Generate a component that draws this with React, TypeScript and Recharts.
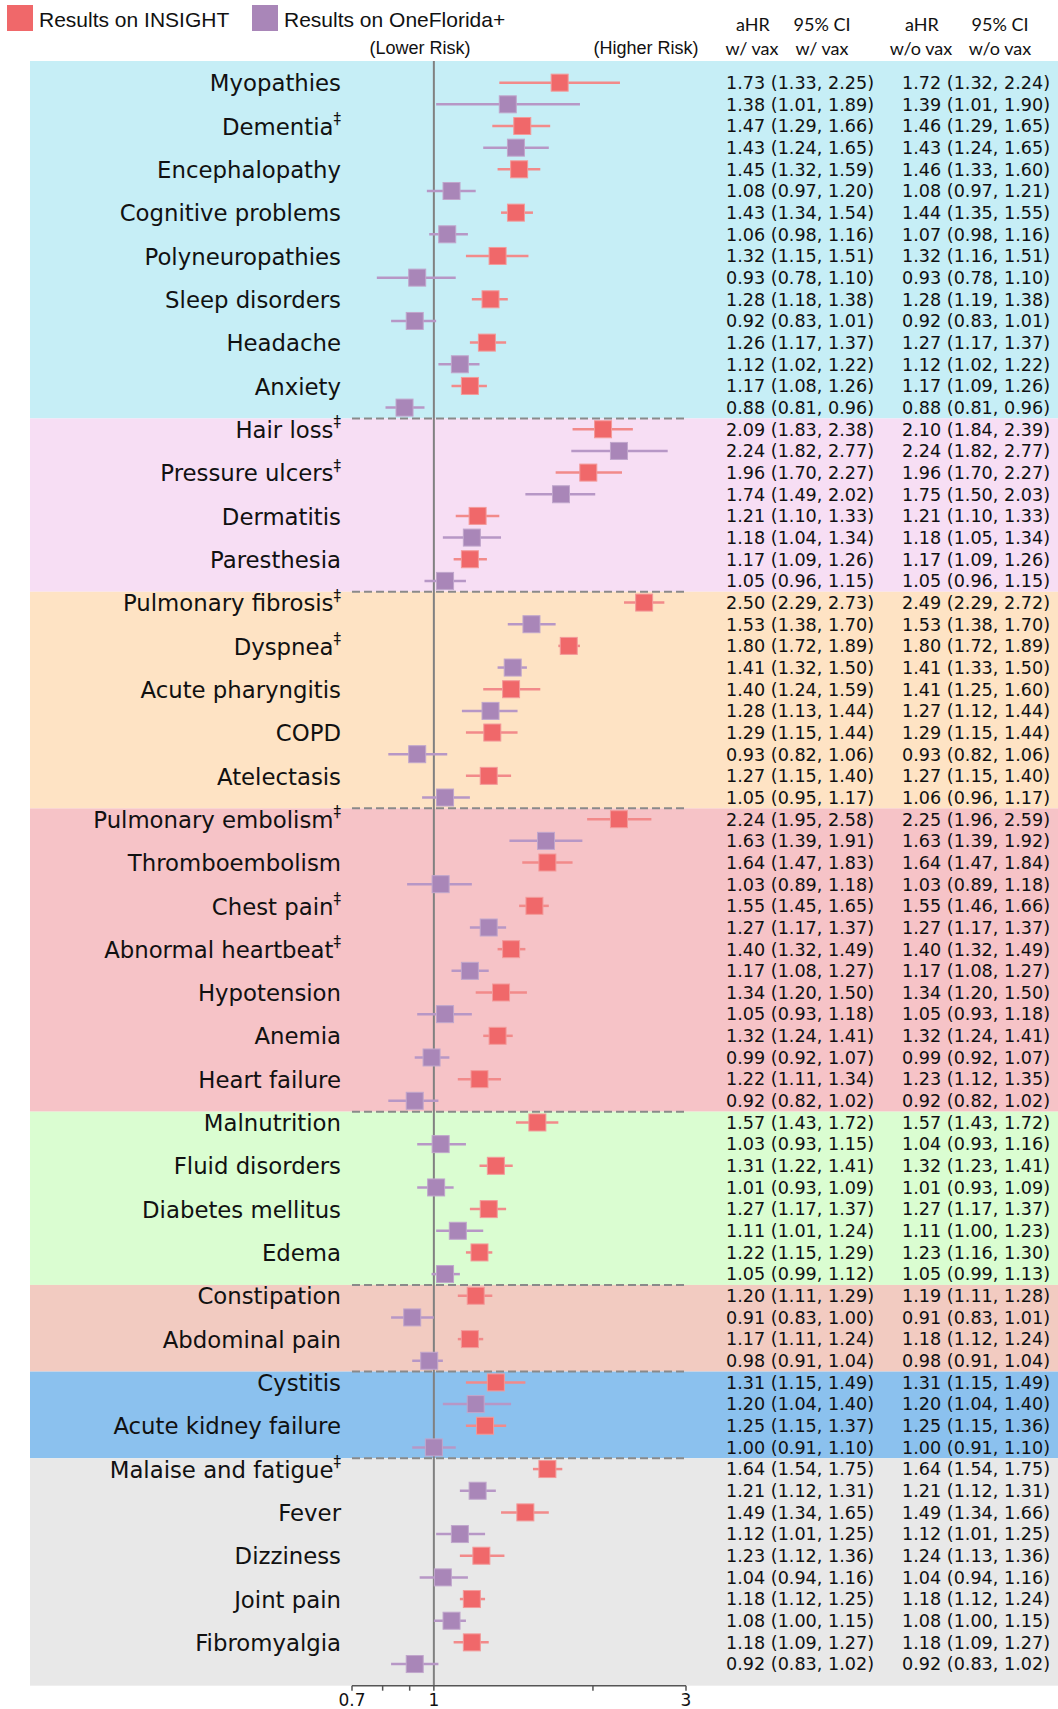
import React from "react";
import {
  ScatterChart,
  Scatter,
  XAxis,
  YAxis,
  ErrorBar,
  ReferenceArea,
  ReferenceLine,
} from "recharts";

const conditions = [
  "Myopathies", "Dementia‡", "Encephalopathy", "Cognitive problems", "Polyneuropathies",
  "Sleep disorders", "Headache", "Anxiety",
  "Hair loss‡", "Pressure ulcers‡", "Dermatitis", "Paresthesia",
  "Pulmonary fibrosis‡", "Dyspnea‡", "Acute pharyngitis", "COPD", "Atelectasis",
  "Pulmonary embolism‡", "Thromboembolism", "Chest pain‡", "Abnormal heartbeat‡",
  "Hypotension", "Anemia", "Heart failure",
  "Malnutrition", "Fluid disorders", "Diabetes mellitus", "Edema",
  "Constipation", "Abdominal pain",
  "Cystitis", "Acute kidney failure",
  "Malaise and fatigue‡", "Fever", "Dizziness", "Joint pain", "Fibromyalgia",
];

// [aHR, lower, upper]
const insightVax = [
  [1.73, 1.33, 2.25], [1.47, 1.29, 1.66], [1.45, 1.32, 1.59], [1.43, 1.34, 1.54], [1.32, 1.15, 1.51],
  [1.28, 1.18, 1.38], [1.26, 1.17, 1.37], [1.17, 1.08, 1.26],
  [2.09, 1.83, 2.38], [1.96, 1.7, 2.27], [1.21, 1.1, 1.33], [1.17, 1.09, 1.26],
  [2.5, 2.29, 2.73], [1.8, 1.72, 1.89], [1.4, 1.24, 1.59], [1.29, 1.15, 1.44], [1.27, 1.15, 1.4],
  [2.24, 1.95, 2.58], [1.64, 1.47, 1.83], [1.55, 1.45, 1.65], [1.4, 1.32, 1.49],
  [1.34, 1.2, 1.5], [1.32, 1.24, 1.41], [1.22, 1.11, 1.34],
  [1.57, 1.43, 1.72], [1.31, 1.22, 1.41], [1.27, 1.17, 1.37], [1.22, 1.15, 1.29],
  [1.2, 1.11, 1.29], [1.17, 1.11, 1.24],
  [1.31, 1.15, 1.49], [1.25, 1.15, 1.37],
  [1.64, 1.54, 1.75], [1.49, 1.34, 1.65], [1.23, 1.12, 1.36], [1.18, 1.12, 1.25], [1.18, 1.09, 1.27],
];

const insightNoVax = [
  [1.72, 1.32, 2.24], [1.46, 1.29, 1.65], [1.46, 1.33, 1.6], [1.44, 1.35, 1.55], [1.32, 1.16, 1.51],
  [1.28, 1.19, 1.38], [1.27, 1.17, 1.37], [1.17, 1.09, 1.26],
  [2.1, 1.84, 2.39], [1.96, 1.7, 2.27], [1.21, 1.1, 1.33], [1.17, 1.09, 1.26],
  [2.49, 2.29, 2.72], [1.8, 1.72, 1.89], [1.41, 1.25, 1.6], [1.29, 1.15, 1.44], [1.27, 1.15, 1.4],
  [2.25, 1.96, 2.59], [1.64, 1.47, 1.84], [1.55, 1.46, 1.66], [1.4, 1.32, 1.49],
  [1.34, 1.2, 1.5], [1.32, 1.24, 1.41], [1.23, 1.12, 1.35],
  [1.57, 1.43, 1.72], [1.32, 1.23, 1.41], [1.27, 1.17, 1.37], [1.23, 1.16, 1.3],
  [1.19, 1.11, 1.28], [1.18, 1.12, 1.24],
  [1.31, 1.15, 1.49], [1.25, 1.15, 1.36],
  [1.64, 1.54, 1.75], [1.49, 1.34, 1.66], [1.24, 1.13, 1.36], [1.18, 1.12, 1.24], [1.18, 1.09, 1.27],
];

const oneFloridaVax = [
  [1.38, 1.01, 1.89], [1.43, 1.24, 1.65], [1.08, 0.97, 1.2], [1.06, 0.98, 1.16], [0.93, 0.78, 1.1],
  [0.92, 0.83, 1.01], [1.12, 1.02, 1.22], [0.88, 0.81, 0.96],
  [2.24, 1.82, 2.77], [1.74, 1.49, 2.02], [1.18, 1.04, 1.34], [1.05, 0.96, 1.15],
  [1.53, 1.38, 1.7], [1.41, 1.32, 1.5], [1.28, 1.13, 1.44], [0.93, 0.82, 1.06], [1.05, 0.95, 1.17],
  [1.63, 1.39, 1.91], [1.03, 0.89, 1.18], [1.27, 1.17, 1.37], [1.17, 1.08, 1.27],
  [1.05, 0.93, 1.18], [0.99, 0.92, 1.07], [0.92, 0.82, 1.02],
  [1.03, 0.93, 1.15], [1.01, 0.93, 1.09], [1.11, 1.01, 1.24], [1.05, 0.99, 1.12],
  [0.91, 0.83, 1.0], [0.98, 0.91, 1.04],
  [1.2, 1.04, 1.4], [1.0, 0.91, 1.1],
  [1.21, 1.12, 1.31], [1.12, 1.01, 1.25], [1.04, 0.94, 1.16], [1.08, 1.0, 1.15], [0.92, 0.83, 1.02],
];

const oneFloridaNoVax = [
  [1.39, 1.01, 1.9], [1.43, 1.24, 1.65], [1.08, 0.97, 1.21], [1.07, 0.98, 1.16], [0.93, 0.78, 1.1],
  [0.92, 0.83, 1.01], [1.12, 1.02, 1.22], [0.88, 0.81, 0.96],
  [2.24, 1.82, 2.77], [1.75, 1.5, 2.03], [1.18, 1.05, 1.34], [1.05, 0.96, 1.15],
  [1.53, 1.38, 1.7], [1.41, 1.33, 1.5], [1.27, 1.12, 1.44], [0.93, 0.82, 1.06], [1.06, 0.96, 1.17],
  [1.63, 1.39, 1.92], [1.03, 0.89, 1.18], [1.27, 1.17, 1.37], [1.17, 1.08, 1.27],
  [1.05, 0.93, 1.18], [0.99, 0.92, 1.07], [0.92, 0.82, 1.02],
  [1.04, 0.93, 1.16], [1.01, 0.93, 1.09], [1.11, 1.0, 1.23], [1.05, 0.99, 1.13],
  [0.91, 0.83, 1.01], [0.98, 0.91, 1.04],
  [1.2, 1.04, 1.4], [1.0, 0.91, 1.1],
  [1.21, 1.12, 1.31], [1.12, 1.01, 1.25], [1.04, 0.94, 1.16], [1.08, 1.0, 1.15], [0.92, 0.83, 1.02],
];

const groupSizes = [8, 4, 5, 7, 4, 2, 2, 5];
const groupColors = ["#c6eef6", "#f7def4", "#fee3c4", "#f6c3c7", "#dafdd1", "#f2cbc1", "#8bc1ee", "#e8e8e8"];

const xTicks = [0.7, 0.8, 0.9, 1, 2, 3];
const xTickLabels = [0.7, 1, 3];

const RED = "#f0686a";
const PURPLE = "#a986b8";

const nRows = conditions.length * 2;
const rowIdx = Array.from({ length: nRows }, (_, i) => i);

const insightRows = insightVax.map(([hr, lo, hi], i) => ({ x: hr, y: i * 2, err: [hr - lo, hi - hr] }));
const floridaRows = oneFloridaVax.map(([hr, lo, hi], i) => ({ x: hr, y: i * 2 + 1, err: [hr - lo, hi - hr] }));

const fmt = (t: number[]) => `${t[0].toFixed(2)} (${t[1].toFixed(2)}, ${t[2].toFixed(2)})`;

const bands: { y1: number; y2: number; color: string }[] = [];
let start = 0;
groupSizes.forEach((n, g) => {
  const end = start + n * 2;
  bands.push({
    y1: g === 0 ? -1 : start - 0.5,
    y2: g === groupSizes.length - 1 ? nRows : end - 0.5,
    color: groupColors[g],
  });
  start = end;
});
const separators = bands.slice(1).map((b) => b.y1);

function RowTick(props: any) {
  const { y, payload } = props;
  const row = payload.value as number;
  const c = Math.floor(row / 2);
  const isInsight = row % 2 === 0;
  const name = conditions[c];
  const dagger = name.endsWith("‡");
  const vax = isInsight ? insightVax[c] : oneFloridaVax[c];
  const noVax = isInsight ? insightNoVax[c] : oneFloridaNoVax[c];
  return (
    <g>
      {isInsight && (
        <text x={341} y={y} dy="0.38em" textAnchor="end" fontSize={22.8} fontFamily="DejaVu Sans" fill="#111">
          {dagger ? name.slice(0, -1) : name}
          {dagger && (
            <tspan fontSize={15} dy="-0.7em">
              ‡
            </tspan>
          )}
        </text>
      )}
      <text x={726} y={y} dy="0.36em" fontSize={17.6} fontFamily="DejaVu Sans" fill="#111">
        {fmt(vax)}
      </text>
      <text x={902} y={y} dy="0.36em" fontSize={17.6} fontFamily="DejaVu Sans" fill="#111">
        {fmt(noVax)}
      </text>
    </g>
  );
}

const square = (fill: string, edge: string) => (p: any) =>
  <rect x={p.cx - 8.5} y={p.cy - 8.5} width={17} height={17} fill={fill} stroke={edge} strokeWidth={1} />;

const txt = (x: number, y: number, s: string, size: number, family: string) => (
  <div
    style={{
      position: "absolute",
      left: x,
      top: y,
      transform: "translate(-50%, -50%)",
      fontSize: size,
      fontFamily: family,
      whiteSpace: "nowrap",
      color: "#111",
      lineHeight: 1,
    }}
  >
    {s}
  </div>
);

export default function App() {
  return (
    <div style={{ position: "absolute", left: 0, top: 0, width: 1058, height: 1709, background: "#fff" }}>
      <ScatterChart width={1058} height={1709} margin={{ top: 61, right: 372, bottom: 0, left: 0 }}>
        {bands.map((b, i) => (
          <ReferenceArea
            key={i}
            y1={b.y1}
            y2={b.y2}
            fill={b.color}
            fillOpacity={1}
            stroke="none"
            shape={(p: any) => <rect x={30} y={p.y} width={1028} height={p.height} fill={b.color} />}
          />
        ))}
        <XAxis
          type="number"
          dataKey="x"
          scale="log"
          domain={[0.7, 3]}
          allowDataOverflow
          ticks={xTicks}
          interval={0}
          tickFormatter={(v: number) => (xTickLabels.includes(v) ? String(v) : "")}
          height={23.3}
          stroke="#555"
          strokeWidth={1.5}
          tickSize={5}
          tickMargin={3}
          tick={{ fontSize: 17, fill: "#111", fontFamily: "DejaVu Sans" }}
        />
        <YAxis
          type="number"
          dataKey="y"
          domain={[-1, nRows]}
          reversed
          ticks={rowIdx}
          interval={0}
          width={352}
          axisLine={false}
          tickLine={false}
          tick={(p: any) => <RowTick {...p} />}
        />
        {separators.map((s, i) => (
          <ReferenceLine key={i} y={s} stroke="#8a8a8a" strokeWidth={2} strokeDasharray="8 4" />
        ))}
        <ReferenceLine x={1} stroke="#808080" strokeWidth={2} />
        <Scatter name="Results on INSIGHT" data={insightRows} shape={square(RED, "#f39a9a")} isAnimationActive={false}>
          <ErrorBar dataKey="err" direction="x" width={0} stroke="#f28a8a" strokeWidth={2.5} />
        </Scatter>
        <Scatter name="Results on OneFlorida+" data={floridaRows} shape={square(PURPLE, "#c0a6cc")} isAnimationActive={false}>
          <ErrorBar dataKey="err" direction="x" width={0} stroke="#b797c6" strokeWidth={2.5} />
        </Scatter>
      </ScatterChart>

      <div style={{ position: "absolute", left: 7, top: 5, width: 26, height: 26, background: RED }} />
      <div style={{ position: "absolute", left: 39, top: 8, fontSize: 21, fontFamily: "Liberation Sans", color: "#111" }}>
        Results on INSIGHT
      </div>
      <div style={{ position: "absolute", left: 252, top: 5, width: 26, height: 26, background: PURPLE }} />
      <div style={{ position: "absolute", left: 284, top: 8, fontSize: 21, fontFamily: "Liberation Sans", color: "#111" }}>
        Results on OneFlorida+
      </div>
      {txt(420, 48, "(Lower Risk)", 18, "Liberation Sans")}
      {txt(646, 48, "(Higher Risk)", 18, "Liberation Sans")}
      {txt(753, 24, "aHR", 18, "Lato")}
      {txt(822, 24, "95% CI", 18, "Lato")}
      {txt(922, 24, "aHR", 18, "Lato")}
      {txt(1000, 24, "95% CI", 18, "Lato")}
      {txt(752, 48, "w/ vax", 18, "Lato")}
      {txt(822, 48, "w/ vax", 18, "Lato")}
      {txt(921, 48, "w/o vax", 18, "Lato")}
      {txt(1000, 48, "w/o vax", 18, "Lato")}
    </div>
  );
}
